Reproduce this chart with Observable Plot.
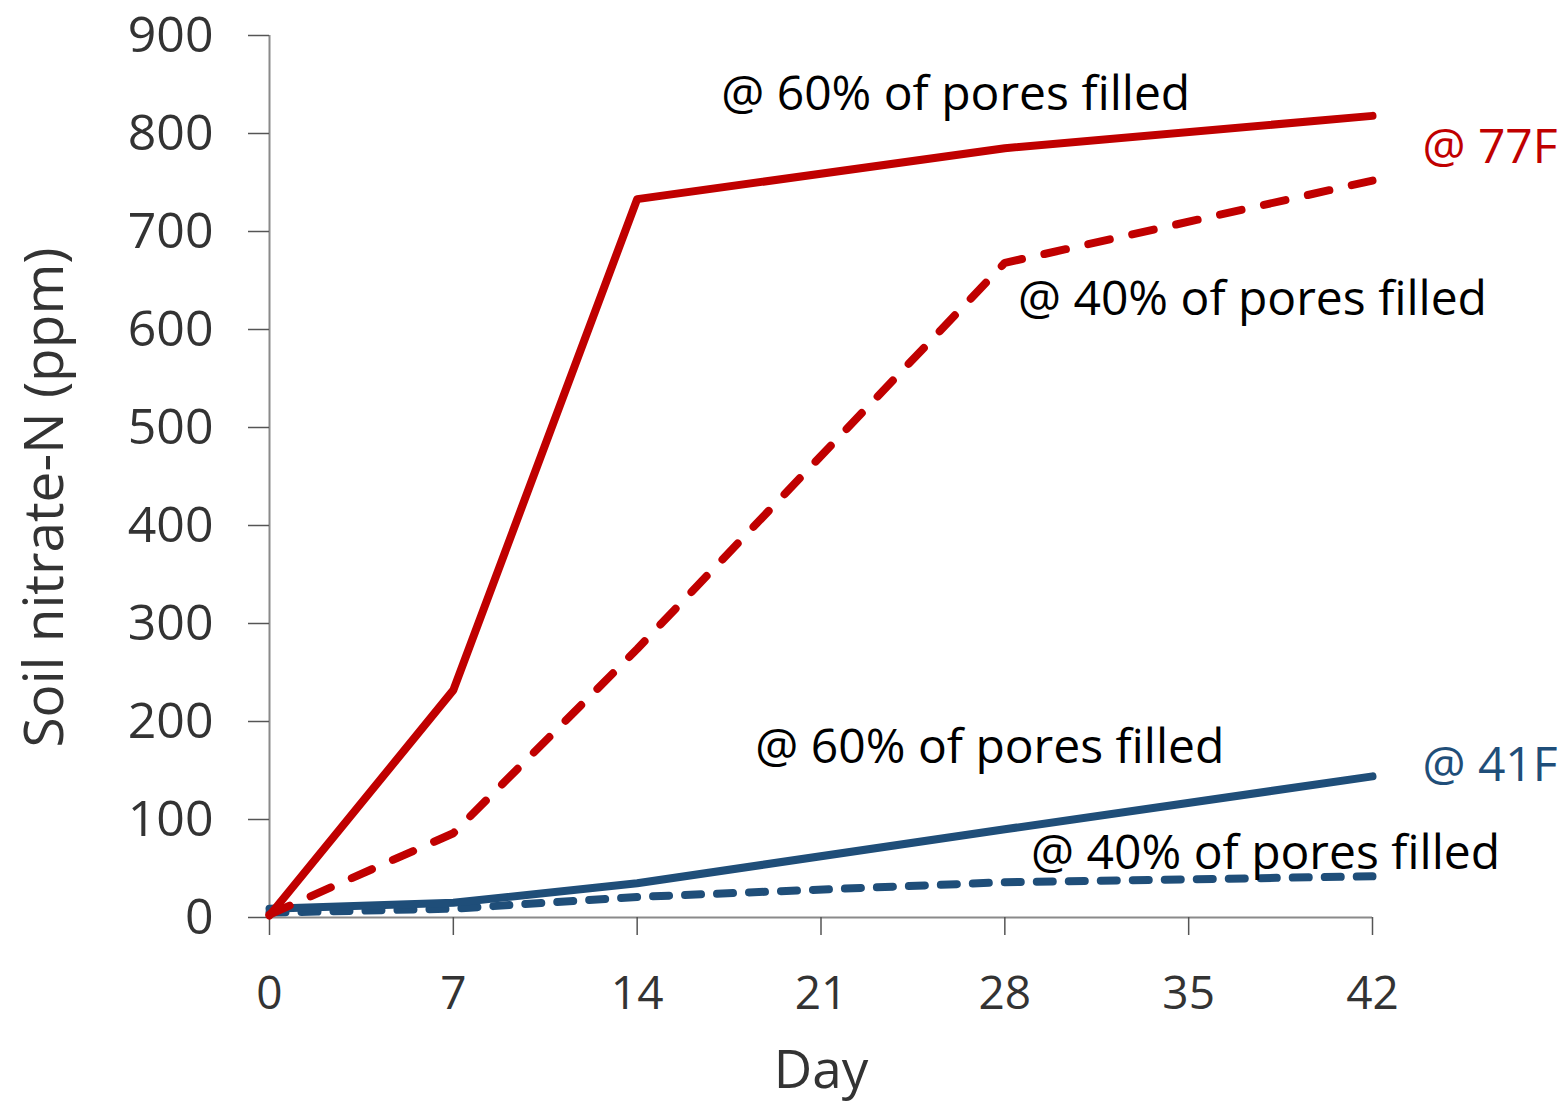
<!DOCTYPE html>
<html>
<head>
<meta charset="utf-8">
<script src="https://cdn.jsdelivr.net/npm/d3@7"></script>
<script src="https://cdn.jsdelivr.net/npm/@observablehq/plot@0.6"></script>
<style>
  html, body { margin: 0; padding: 0; background: #fff; }
  #chart svg { display: block; }
</style>
</head>
<body>
<div id="chart"></div>
<script>
const days = [0, 7, 14, 28, 42];
const warm60 = [2, 232, 733, 785, 818];
const warm40 = [3, 86, 274, 668, 752];
const cold60 = [9, 15, 35, 90, 144];
const cold40 = [5, 9, 21, 36, 42];
const xTicks = [0, 7, 14, 21, 28, 35, 42];
const yTicks = [0, 100, 200, 300, 400, 500, 600, 700, 800, 900];

const red = "#C00000";
const blue = "#1F4E79";

const mk = (vals) => days.map((d, i) => ({day: d, v: vals[i]}));

const labels = [
  {day: 17.2, v: 840, text: "@ 60% of pores filled", color: "#000"},
  {day: 28.5, v: 630, text: "@ 40% of pores filled", color: "#000"},
  {day: 43.9, v: 786, text: "@ 77F", color: red},
  {day: 18.5, v: 173, text: "@ 60% of pores filled", color: "#000"},
  {day: 43.9, v: 155, text: "@ 41F", color: blue},
  {day: 29.0, v: 65, text: "@ 40% of pores filled", color: "#000"}
];

const font = "'Open Sans', 'Noto Sans', sans-serif";

const chart = Plot.plot({
  width: 1564,
  height: 1102,
  marginLeft: 269,
  marginRight: 192,
  marginTop: 35,
  marginBottom: 185,
  style: {fontFamily: font, background: "#fff", overflow: "visible"},
  x: {domain: [0, 42], ticks: xTicks, label: null},
  y: {domain: [0, 900], ticks: yTicks, label: null},
  marks: [
    Plot.ruleY([0], {stroke: "#8a8a8a", strokeWidth: 2}),
    Plot.ruleX([0], {y1: 0, y2: 900, stroke: "#8a8a8a", strokeWidth: 2}),
    Plot.axisX({ticks: xTicks, tickSize: 18, tickPadding: 41, fontSize: 46, stroke: "#555", strokeWidth: 1.5, fill: "#333", label: null}),
    Plot.axisY({ticks: yTicks, tickSize: 21, tickPadding: 35, fontSize: 50, stroke: "#555", strokeWidth: 1.5, fill: "#333", label: null}),
    Plot.text(["Day"], {frameAnchor: "bottom", dy: 170, fontSize: 53, fill: "#333", lineAnchor: "bottom"}),
    Plot.text(["Soil nitrate-N (ppm)"], {frameAnchor: "left", textAnchor: "middle", dx: -224, dy: 21, rotate: -90, fontSize: 55, fill: "#333"}),
    Plot.line(mk(cold40), {x: "day", y: "v", stroke: blue, strokeWidth: 8, strokeDasharray: "16,16", strokeLinecap: "round"}),
    Plot.line(mk(cold60), {x: "day", y: "v", stroke: blue, strokeWidth: 8}),
    Plot.line(mk(warm40), {x: "day", y: "v", stroke: red, strokeWidth: 8, strokeDasharray: "22,23", strokeLinecap: "round"}),
    Plot.line(mk(warm60), {x: "day", y: "v", stroke: red, strokeWidth: 8}),
    Plot.text(labels, {x: "day", y: "v", text: "text", fill: "color", textAnchor: "start", fontSize: 48, clip: false})
  ]
});
document.getElementById("chart").appendChild(chart);
</script>
</body>
</html>
